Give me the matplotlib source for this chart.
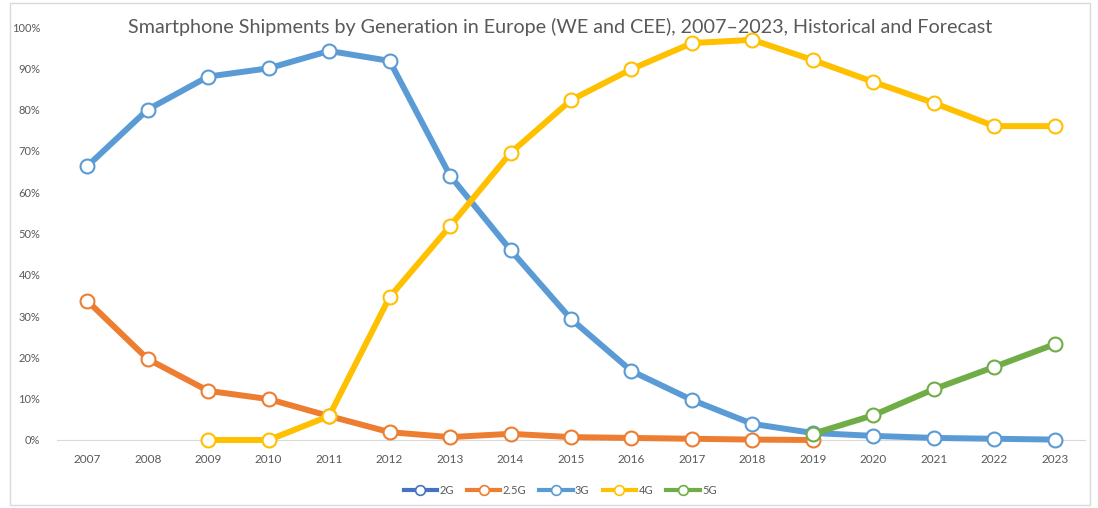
import matplotlib
matplotlib.use("Agg")
import matplotlib.pyplot as plt
from matplotlib.patches import Rectangle
from matplotlib.lines import Line2D

years = list(range(2007, 2024))
series_names = ["2G", "2.5G", "3G", "4G", "5G"]
colors = ["#4472C4", "#ED7D31", "#5B9BD5", "#FFC000", "#70AD47"]

g2 = [None] * 17
g25 = [33.7, 19.6, 11.9, 9.9, 5.8, 1.9, 0.7, 1.5, 0.7, 0.5, 0.3, 0.1, 0.0] + [None] * 4
g3 = [66.3, 80.0, 88.0, 90.0, 94.2, 91.8, 64.0, 46.0, 29.3, 16.7, 9.7, 3.9, 1.7, 1.0, 0.5, 0.3, 0.1]
g4 = [None, None, 0.0, 0.0, 5.8, 34.6, 51.8, 69.5, 82.3, 89.8, 96.1, 96.9, 92.0, 86.7, 81.6, 76.0, 76.0]
g5 = [None] * 12 + [1.5, 6.0, 12.3, 17.7, 23.2]
data = [g2, g25, g3, g4, g5]

title = "Smartphone Shipments by Generation in Europe (WE and CEE), 2007\u20132023, Historical and Forecast"

plt.rcParams['font.family'] = ['Lato', 'DejaVu Sans']

fig = plt.figure(figsize=(10.98, 5.08), dpi=100)
fig.patch.set_facecolor("white")
fig.patches.append(Rectangle((10/1098, 3/508), 1080/1098, 502/508, transform=fig.transFigure,
                             fill=False, edgecolor="#D9D9D9", linewidth=1.0))

ax = fig.add_axes([57/1098, 1 - 440/508, (1085 - 57)/1098, (440 - 27)/508])

for name, vals, c in zip(series_names, data, colors):
    xs = [y for y, v in zip(years, vals) if v is not None]
    ys = [v / 100 for v in vals if v is not None]
    if xs:
        ax.plot(xs, ys, color=c, lw=4.3, marker="o", ms=10, mfc="white", mec=c, mew=1.5,
                clip_on=False, zorder=3, solid_capstyle="round", solid_joinstyle="round")

ax.set_xlim(2006.5, 2023.5)
ax.set_ylim(0, 1.0)
ax.set_xticks(years)
ax.set_xticklabels([str(y) for y in years])
ax.set_yticks([i / 10 for i in range(11)])
ax.set_yticklabels([f"{i*10}%" for i in range(11)])
for s in ["top", "right", "left"]:
    ax.spines[s].set_visible(False)
ax.spines["bottom"].set_color("#D9D9D9")
ax.tick_params(axis="both", length=0, colors="#595959")
ax.tick_params(axis="x", pad=10, labelsize=8.5)
ax.tick_params(axis="y", pad=12, labelsize=8)

fig.text(560/1098, 1 - 27/508, title, ha="center", va="center", fontsize=14.2, color="#595959")

handles = [Line2D([0], [0], color=c, lw=3, marker="o", ms=7, mfc="white", mec=c, mew=1.2)
           for c in colors]
fig.legend(handles, series_names, loc="center", bbox_to_anchor=(560/1098, 1 - 490/508),
           ncol=5, frameon=False, fontsize=8, labelcolor="#595959",
           handlelength=3, handletextpad=0.2, columnspacing=1.2)

fig.savefig("out.png", dpi=100, facecolor="white")
